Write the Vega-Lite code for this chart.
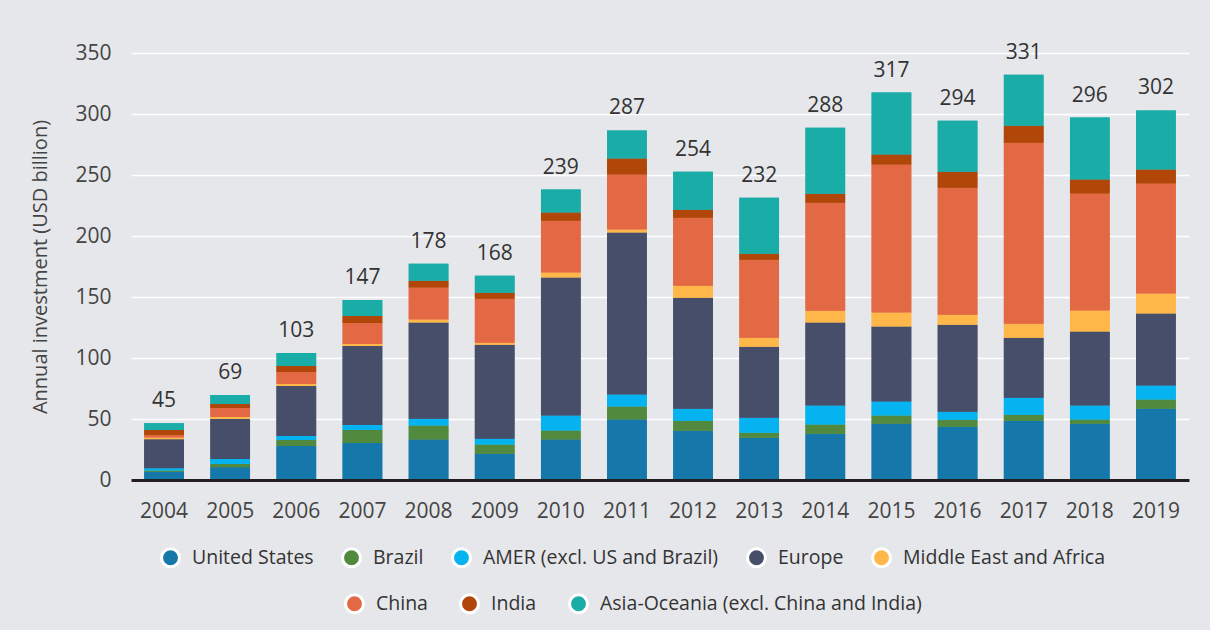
{
  "$schema": "https://vega.github.io/schema/vega-lite/v6.json",
  "width": 1058,
  "height": 427,
  "autosize": {"type": "none"},
  "padding": {"left": 131, "top": 53, "right": 21, "bottom": 150},
  "background": "#e6e7eb",
  "config": {"view": {"stroke": null}, "font": "Open Sans"},
  "datasets": {
    "regions": [
      {"region":"United States","rank":1},{"region":"Brazil","rank":2},{"region":"AMER (excl. US and Brazil)","rank":3},{"region":"Europe","rank":4},
      {"region":"Middle East and Africa","rank":5},{"region":"China","rank":6},{"region":"India","rank":7},{"region":"Asia-Oceania (excl. China and India)","rank":8}
    ],
    "segments": [
      {"year":"2004","region":"United States","value":6.8},{"year":"2004","region":"Brazil","value":1.0},{"year":"2004","region":"AMER (excl. US and Brazil)","value":1.9},{"year":"2004","region":"Europe","value":23.8},{"year":"2004","region":"Middle East and Africa","value":1.4},{"year":"2004","region":"China","value":1.9},{"year":"2004","region":"India","value":4.1},{"year":"2004","region":"Asia-Oceania (excl. China and India)","value":5.7},
      {"year":"2005","region":"United States","value":10.4},{"year":"2005","region":"Brazil","value":2.7},{"year":"2005","region":"AMER (excl. US and Brazil)","value":4.1},{"year":"2005","region":"Europe","value":32.8},{"year":"2005","region":"Middle East and Africa","value":1.6},{"year":"2005","region":"China","value":7.4},{"year":"2005","region":"India","value":3.3},{"year":"2005","region":"Asia-Oceania (excl. China and India)","value":7.4},
      {"year":"2006","region":"United States","value":27.9},{"year":"2006","region":"Brazil","value":4.9},{"year":"2006","region":"AMER (excl. US and Brazil)","value":3.3},{"year":"2006","region":"Europe","value":41.0},{"year":"2006","region":"Middle East and Africa","value":1.6},{"year":"2006","region":"China","value":9.8},{"year":"2006","region":"India","value":4.9},{"year":"2006","region":"Asia-Oceania (excl. China and India)","value":10.7},
      {"year":"2007","region":"United States","value":30.3},{"year":"2007","region":"Brazil","value":10.7},{"year":"2007","region":"AMER (excl. US and Brazil)","value":4.1},{"year":"2007","region":"Europe","value":64.8},{"year":"2007","region":"Middle East and Africa","value":1.6},{"year":"2007","region":"China","value":17.2},{"year":"2007","region":"India","value":5.7},{"year":"2007","region":"Asia-Oceania (excl. China and India)","value":13.1},
      {"year":"2008","region":"United States","value":33.1},{"year":"2008","region":"Brazil","value":11.5},{"year":"2008","region":"AMER (excl. US and Brazil)","value":5.7},{"year":"2008","region":"Europe","value":78.7},{"year":"2008","region":"Middle East and Africa","value":2.5},{"year":"2008","region":"China","value":26.2},{"year":"2008","region":"India","value":5.7},{"year":"2008","region":"Asia-Oceania (excl. China and India)","value":13.9},
      {"year":"2009","region":"United States","value":21.6},{"year":"2009","region":"Brazil","value":7.4},{"year":"2009","region":"AMER (excl. US and Brazil)","value":4.9},{"year":"2009","region":"Europe","value":77.0},{"year":"2009","region":"Middle East and Africa","value":1.6},{"year":"2009","region":"China","value":36.1},{"year":"2009","region":"India","value":4.9},{"year":"2009","region":"Asia-Oceania (excl. China and India)","value":13.9},
      {"year":"2010","region":"United States","value":33.1},{"year":"2010","region":"Brazil","value":7.4},{"year":"2010","region":"AMER (excl. US and Brazil)","value":12.3},{"year":"2010","region":"Europe","value":113.1},{"year":"2010","region":"Middle East and Africa","value":4.1},{"year":"2010","region":"China","value":42.6},{"year":"2010","region":"India","value":6.6},{"year":"2010","region":"Asia-Oceania (excl. China and India)","value":18.9},
      {"year":"2011","region":"United States","value":49.5},{"year":"2011","region":"Brazil","value":10.7},{"year":"2011","region":"AMER (excl. US and Brazil)","value":9.8},{"year":"2011","region":"Europe","value":132.8},{"year":"2011","region":"Middle East and Africa","value":2.5},{"year":"2011","region":"China","value":45.1},{"year":"2011","region":"India","value":13.1},{"year":"2011","region":"Asia-Oceania (excl. China and India)","value":23.0},
      {"year":"2012","region":"United States","value":40.4},{"year":"2012","region":"Brazil","value":8.2},{"year":"2012","region":"AMER (excl. US and Brazil)","value":9.8},{"year":"2012","region":"Europe","value":91.0},{"year":"2012","region":"Middle East and Africa","value":9.8},{"year":"2012","region":"China","value":55.7},{"year":"2012","region":"India","value":6.6},{"year":"2012","region":"Asia-Oceania (excl. China and India)","value":31.1},
      {"year":"2013","region":"United States","value":34.7},{"year":"2013","region":"Brazil","value":4.1},{"year":"2013","region":"AMER (excl. US and Brazil)","value":12.3},{"year":"2013","region":"Europe","value":58.2},{"year":"2013","region":"Middle East and Africa","value":7.4},{"year":"2013","region":"China","value":63.9},{"year":"2013","region":"India","value":4.9},{"year":"2013","region":"Asia-Oceania (excl. China and India)","value":45.9},
      {"year":"2014","region":"United States","value":38.0},{"year":"2014","region":"Brazil","value":7.4},{"year":"2014","region":"AMER (excl. US and Brazil)","value":15.6},{"year":"2014","region":"Europe","value":68.0},{"year":"2014","region":"Middle East and Africa","value":9.8},{"year":"2014","region":"China","value":88.5},{"year":"2014","region":"India","value":7.4},{"year":"2014","region":"Asia-Oceania (excl. China and India)","value":54.1},
      {"year":"2015","region":"United States","value":46.2},{"year":"2015","region":"Brazil","value":6.6},{"year":"2015","region":"AMER (excl. US and Brazil)","value":11.5},{"year":"2015","region":"Europe","value":61.5},{"year":"2015","region":"Middle East and Africa","value":11.5},{"year":"2015","region":"China","value":121.3},{"year":"2015","region":"India","value":8.2},{"year":"2015","region":"Asia-Oceania (excl. China and India)","value":50.8},
      {"year":"2016","region":"United States","value":43.7},{"year":"2016","region":"Brazil","value":5.7},{"year":"2016","region":"AMER (excl. US and Brazil)","value":6.6},{"year":"2016","region":"Europe","value":71.3},{"year":"2016","region":"Middle East and Africa","value":8.2},{"year":"2016","region":"China","value":104.1},{"year":"2016","region":"India","value":13.1},{"year":"2016","region":"Asia-Oceania (excl. China and India)","value":41.8},
      {"year":"2017","region":"United States","value":48.6},{"year":"2017","region":"Brazil","value":4.9},{"year":"2017","region":"AMER (excl. US and Brazil)","value":13.9},{"year":"2017","region":"Europe","value":49.2},{"year":"2017","region":"Middle East and Africa","value":11.5},{"year":"2017","region":"China","value":148.4},{"year":"2017","region":"India","value":13.9},{"year":"2017","region":"Asia-Oceania (excl. China and India)","value":41.8},
      {"year":"2018","region":"United States","value":46.2},{"year":"2018","region":"Brazil","value":3.3},{"year":"2018","region":"AMER (excl. US and Brazil)","value":11.5},{"year":"2018","region":"Europe","value":60.7},{"year":"2018","region":"Middle East and Africa","value":17.2},{"year":"2018","region":"China","value":95.9},{"year":"2018","region":"India","value":11.5},{"year":"2018","region":"Asia-Oceania (excl. China and India)","value":50.8},
      {"year":"2019","region":"United States","value":58.5},{"year":"2019","region":"Brazil","value":7.4},{"year":"2019","region":"AMER (excl. US and Brazil)","value":11.5},{"year":"2019","region":"Europe","value":59.0},{"year":"2019","region":"Middle East and Africa","value":16.4},{"year":"2019","region":"China","value":90.2},{"year":"2019","region":"India","value":11.5},{"year":"2019","region":"Asia-Oceania (excl. China and India)","value":48.4}
    ],
    "totals": [
      {"year":"2004","label":45},{"year":"2005","label":69},{"year":"2006","label":103},{"year":"2007","label":147},
      {"year":"2008","label":178},{"year":"2009","label":168},{"year":"2010","label":239},{"year":"2011","label":287},
      {"year":"2012","label":254},{"year":"2013","label":232},{"year":"2014","label":288},{"year":"2015","label":317},
      {"year":"2016","label":294},{"year":"2017","label":331},{"year":"2018","label":296},{"year":"2019","label":302}
    ]
  },
  "encoding": {
    "x": {
      "field": "year", "type": "ordinal",
      "scale": {"paddingInner": 0.4, "paddingOuter": 0.2},
      "axis": {"title": null, "labelAngle": 0, "labelFontSize": 21, "labelColor": "#444444", "labelPadding": 20, "ticks": false, "domainColor": "#231f20", "domainWidth": 3, "zindex": 1}
    },
    "y": {
      "field": "value", "type": "quantitative",
      "scale": {"domain": [0, 350], "nice": false},
      "axis": {"values": [0, 50, 100, 150, 200, 250, 300, 350], "grid": true, "gridColor": "#ffffff", "gridWidth": 1.5, "domain": false, "ticks": false, "labelPadding": 20, "labelFontSize": 21, "labelColor": "#444444", "title": "Annual investment (USD billion)", "titleFontSize": 20, "titleFontWeight": "normal", "titleColor": "#444444", "titlePadding": 24}
    }
  },
  "layer": [
    {
      "data": {"name": "segments"},
      "transform": [{"lookup": "region", "from": {"data": {"name": "regions"}, "key": "region", "fields": ["rank"]}}],
      "mark": {"type": "bar"},
      "encoding": {
        "order": {"field": "rank", "type": "quantitative", "sort": "ascending"},
        "color": {
          "field": "region", "type": "nominal",
          "scale": {
            "domain": ["United States","Brazil","AMER (excl. US and Brazil)","Europe","Middle East and Africa","China","India","Asia-Oceania (excl. China and India)"],
            "range": ["#1677aa","#518a3f","#04b3ef","#464e6a","#ffb74a","#e36844","#b04708","#1aada8"]
          },
          "legend": {"values": ["United States","Brazil","AMER (excl. US and Brazil)","Europe","Middle East and Africa"], "title": null, "orient": "none", "legendX": 29, "legendY": 494, "direction": "horizontal", "columns": 5, "symbolType": "circle", "symbolSize": 320, "symbolStrokeColor": "#ffffff", "symbolStrokeWidth": 3, "labelFontSize": 19.5, "labelColor": "#333333", "labelLimit": 400, "columnPadding": 22, "labelOffset": 11,
            "encode": {"symbols": {"update": {"stroke": {"value": "#ffffff"}, "strokeWidth": {"value": 3}}}}}
        }
      }
    },
    {
      "data": {"name": "segments"},
      "transform": [{"lookup": "region", "from": {"data": {"name": "regions"}, "key": "region", "fields": ["rank"]}}],
      "mark": {"type": "bar"},
      "encoding": {
        "order": {"field": "rank", "type": "quantitative", "sort": "ascending"},
        "fill": {
          "field": "region", "type": "nominal",
          "scale": {
            "domain": ["China","India","Asia-Oceania (excl. China and India)","United States","Brazil","AMER (excl. US and Brazil)","Europe","Middle East and Africa"],
            "range": ["#e36844","#b04708","#1aada8","#1677aa","#518a3f","#04b3ef","#464e6a","#ffb74a"]
          },
          "legend": {"values": ["China","India","Asia-Oceania (excl. China and India)"], "title": null, "orient": "none", "legendX": 213, "legendY": 540, "direction": "horizontal", "columns": 3, "symbolType": "circle", "symbolSize": 320, "symbolStrokeColor": "#ffffff", "symbolStrokeWidth": 3, "labelFontSize": 19.5, "labelColor": "#333333", "labelLimit": 400, "columnPadding": 26, "labelOffset": 11,
            "encode": {"symbols": {"update": {"stroke": {"value": "#ffffff"}, "strokeWidth": {"value": 3}}}}}
        }
      }
    },
    {
      "data": {"name": "segments"},
      "transform": [
        {"aggregate": [{"op": "sum", "field": "value", "as": "value"}], "groupby": ["year"]},
        {"lookup": "year", "from": {"data": {"name": "totals"}, "key": "year", "fields": ["label"]}}
      ],
      "mark": {"type": "text", "baseline": "bottom", "dy": -12, "fontSize": 21, "color": "#333333"},
      "encoding": {
        "text": {"field": "label", "type": "quantitative"}
      }
    }
  ]
}
